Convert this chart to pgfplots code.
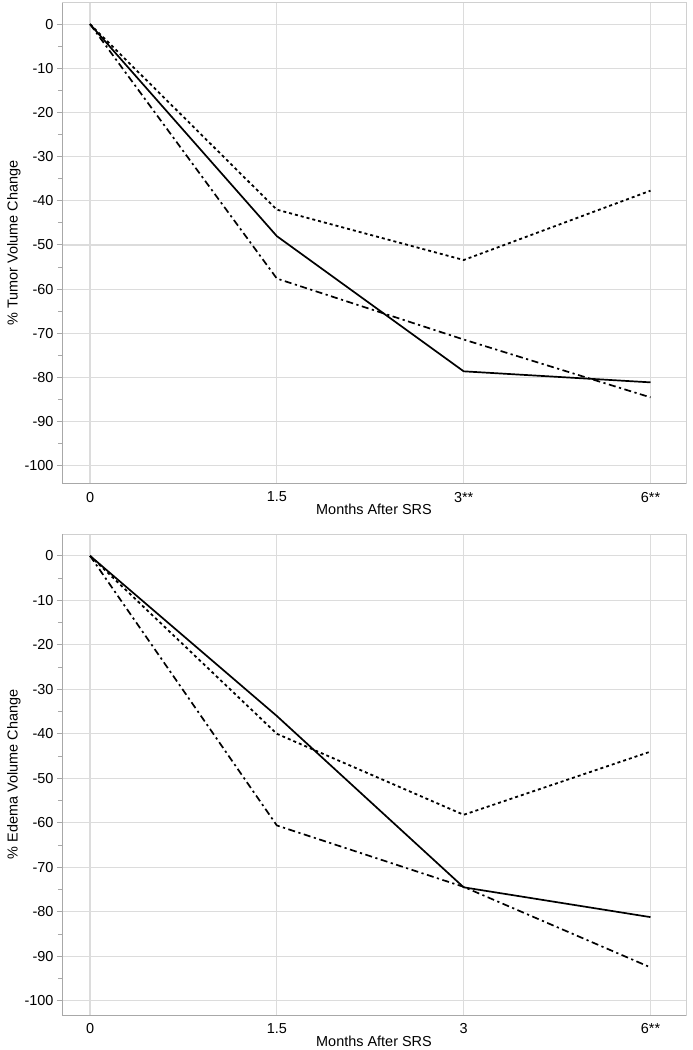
\documentclass[border=0pt]{standalone}
\usepackage{pgfplots}
\pgfplotsset{compat=1.18}
\usepackage{fontspec}
\setmainfont{Liberation Sans}
\definecolor{gridc}{HTML}{DCDCDC}
\definecolor{framec}{HTML}{D0D0D0}
\definecolor{axc}{HTML}{A8A8A8}
\newcommand{\cf}{\fontsize{14.5}{17}\selectfont}
\pgfplotsset{
  panel/.style={
    scale only axis,
    width=624bp, height=481bp,
    xmin=-0.15, xmax=3.19,
    xtick={0,1,2,3},
    ytick={-100,-90,...,0},
    minor ytick={-105,-95,...,5},
    grid=major,
    major grid style={gridc, line width=1.2bp},
    axis line style={framec, line width=1bp},
    tick style={axc, line width=1bp},
    major tick length=5bp,
    minor tick length=4bp,
    xtick style={draw=none},
    ytick pos=left,
    tick align=outside,
    /pgf/number format/assume math mode=true,
    xticklabel style={font=\cf, text=black},
    yticklabel style={font=\cf, text=black},
    xlabel style={font=\cf, text=black, yshift=5bp},
    ylabel style={font=\cf, text=black, yshift=-3bp},
    clip=false,
  },
  s1/.style={black, line width=1.7bp},
  s2/.style={black, line width=1.8bp, dash pattern=on 3bp off 3bp},
  s3/.style={black, line width=1.7bp, dash pattern=on 7bp off 3.5bp on 2.2bp off 3.5bp},
}
\begin{document}
\begin{tikzpicture}[x=1bp,y=1bp,font=\cf]
\path[use as bounding box] (0,0) rectangle (693,-1050);
\begin{axis}[panel, at={(62bp,-483.5bp)}, anchor=south west,
  ymin=-104, ymax=4.9,
  xticklabels={0,1.5,3**,6**},
  xlabel={Months After SRS},
  ylabel={\% Tumor Volume Change}]
\draw[axc, line width=1bp] (rel axis cs:0,0) -- (rel axis cs:0,1);
\draw[axc, line width=1bp] (rel axis cs:0,0) -- (rel axis cs:1,0);
\addplot[s1] coordinates {(0,0) (1,-48.0) (2,-78.6) (3,-81.1)};
\addplot[s2] coordinates {(0,0) (1,-42.0) (2,-53.4) (3,-37.7)};
\addplot[s3] coordinates {(0,0) (1,-57.6) (2,-71.4) (3,-84.5)};
\end{axis}
\begin{axis}[panel, at={(62bp,-1015bp)}, anchor=south west,
  ymin=-103.2, ymax=4.9,
  xticklabels={0,1.5,3,6**},
  xlabel={Months After SRS},
  ylabel={\% Edema Volume Change}]
\draw[axc, line width=1bp] (rel axis cs:0,0) -- (rel axis cs:0,1);
\draw[axc, line width=1bp] (rel axis cs:0,0) -- (rel axis cs:1,0);
\addplot[s1] coordinates {(0,0) (1,-36.0) (2,-74.5) (3,-81.2)};
\addplot[s2] coordinates {(0,0) (1,-40.0) (2,-58.2) (3,-44.0)};
\addplot[s3] coordinates {(0,0) (1,-60.6) (2,-74.4) (3,-92.5)};
\end{axis}
\end{tikzpicture}
\end{document}
